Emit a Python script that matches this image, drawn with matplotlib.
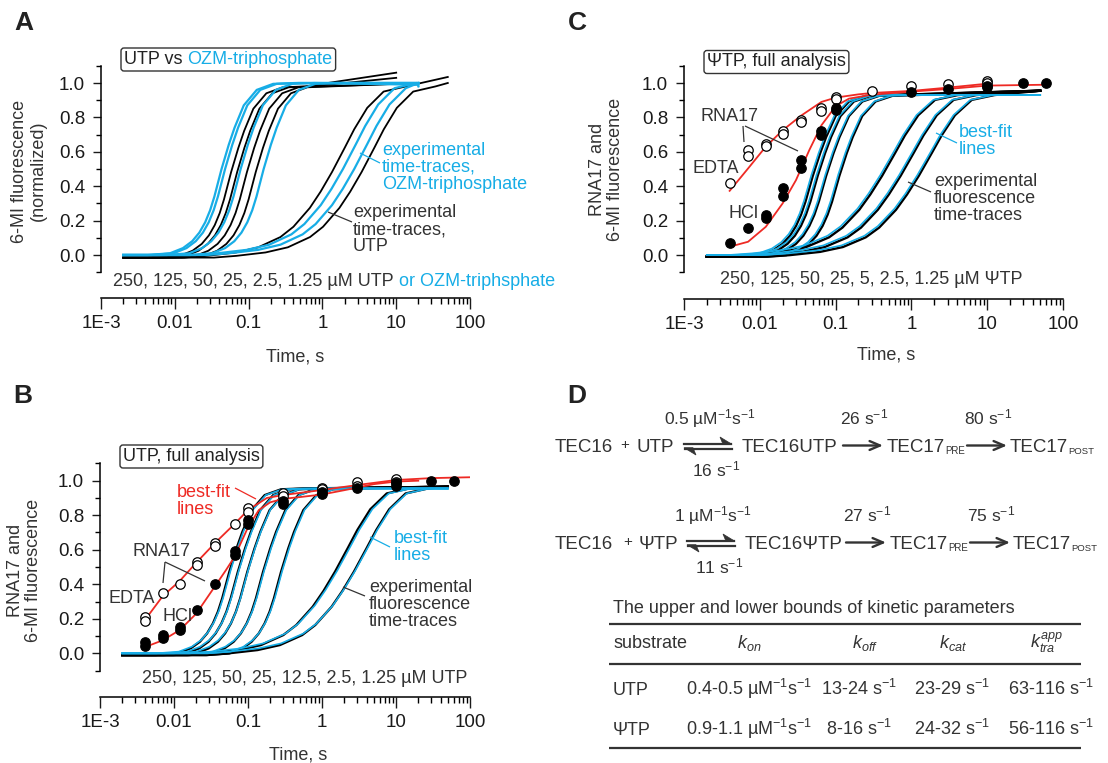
"""Kinetics figure: fluorescence time-traces (A-C) and kinetic scheme/table (D)."""

import matplotlib
matplotlib.use("Agg")
import matplotlib.pyplot as plt
import numpy as np
from matplotlib.patches import FancyBboxPatch, Polygon
from matplotlib.ticker import (FixedFormatter, FixedLocator, LogLocator,
                               MultipleLocator, NullFormatter)

plt.rcParams["font.family"] = ["Liberation Sans", "DejaVu Sans"]
plt.rcParams["mathtext.fontset"] = "custom"
plt.rcParams["mathtext.rm"] = "Liberation Sans"
plt.rcParams["mathtext.it"] = "Liberation Sans:italic"
plt.rcParams["mathtext.bf"] = "Liberation Sans:bold"

W, H = 1108, 763
BLUE = "#17ADE6"
RED = "#EE2A24"
INK = "#333333"
TICK = "#1a1a1a"
FS = 13

X_TICKS = [1e-3, 1e-2, 1e-1, 1, 10, 100]
X_TICK_LABELS = ["1E-3", "0.01", "0.1", "1", "10", "100"]

# shape of a trace, time / half-time -> fraction of plateau
FAST_RATIO = [0.1, 0.2, 0.3, 0.4, 0.5, 0.6, 0.7, 0.8, 1.0, 1.25, 1.5, 2.0, 3.0, 5.0, 10.0]
FAST_Y = [0.0, 0.01, 0.04, 0.08, 0.13, 0.19, 0.26, 0.34, 0.50, 0.64, 0.74, 0.87, 0.96, 0.995, 1.0]
SLOW_RATIO = [0.01, 0.02, 0.05, 0.1, 0.2, 0.3, 0.5, 0.7, 1.0, 1.5, 2.0, 3.0, 5.0, 10.0]
SLOW_Y = [0.0, 0.01, 0.03, 0.06, 0.12, 0.18, 0.29, 0.385, 0.5, 0.645, 0.75, 0.875, 0.97, 1.0]
PROFILES = {"fast": (FAST_RATIO, FAST_Y), "slow": (SLOW_RATIO, SLOW_Y)}

TRACE_START = 0.002

# ── Panel A: UTP vs OZM-triphosphate ──
A_SHAPE = ["fast", "fast", "fast", "fast", "slow", "slow"]
A_UTP_T50 = [0.058, 0.07, 0.095, 0.125, 1.35, 3.4]
A_UTP_PLATEAU = 0.98
A_UTP_BASE = -0.015
A_UTP_END_T = [10, 10, 20, 20, 50, 50]
A_UTP_END_Y = [1.06, 1.03, 1.0, 1.0, 1.035, 1.0]
A_OZM_T50 = [0.043, 0.048, 0.078, 0.16, 1.9, 2.7]
A_OZM_PLATEAU = 1.0
A_OZM_BASE = 0.0
A_OZM_END_T = [20, 20, 20, 20, 20, 20]
A_OZM_END_Y = [1.0, 1.0, 0.99, 1.0, 0.98, 1.0]

# ── Panel B: UTP, full analysis ──
B_SHAPE = ["fast", "fast", "fast", "fast", "fast", "slow", "slow"]
B_EXP_T50 = [0.056, 0.073, 0.098, 0.16, 0.28, 1.5, 2.7]
B_FIT_T50 = [0.058, 0.075, 0.10, 0.165, 0.29, 1.6, 2.8]
B_PLATEAU = 0.955
B_EXP_END = (50, 0.965)
B_FIT_END = (50, 0.955)

B_EDTA_T = [0.004, 0.004, 0.0072, 0.012, 0.0207, 0.0207, 0.036, 0.036, 0.066,
            0.1, 0.1, 0.3, 0.3, 1, 1, 3, 3, 10, 10]
B_EDTA_Y = [0.21, 0.19, 0.35, 0.40, 0.53, 0.51, 0.64, 0.62, 0.75,
            0.84, 0.82, 0.93, 0.91, 0.96, 0.95, 0.99, 0.97, 1.01, 0.99]
B_HCL_T = [0.004, 0.004, 0.0072, 0.0072, 0.012, 0.012, 0.0207, 0.036, 0.066, 0.066,
           0.1, 0.1, 0.3, 0.3, 1, 1, 3, 10, 10, 30, 60]
B_HCL_Y = [0.068, 0.045, 0.106, 0.087, 0.15, 0.135, 0.25, 0.40, 0.59, 0.57,
           0.77, 0.75, 0.88, 0.865, 0.935, 0.925, 0.955, 0.985, 0.97, 1.0, 1.0]

B_EDTA_FIT_T = [0.004, 0.007, 0.012, 0.02, 0.036, 0.066, 0.1, 0.18, 0.3, 1, 3, 10, 30, 100]
B_EDTA_FIT_Y = [0.19, 0.33, 0.42, 0.525, 0.64, 0.75, 0.83, 0.9, 0.917, 0.946, 0.975, 1.004, 1.015, 1.02]
B_HCL_FIT_T = [0.004, 0.007, 0.012, 0.02, 0.036, 0.05, 0.066, 0.1, 0.14, 0.2, 0.3, 0.5,
               1, 2, 3, 5, 10, 20]
B_HCL_FIT_Y = [0.035, 0.075, 0.135, 0.23, 0.39, 0.48, 0.56, 0.73, 0.83, 0.875, 0.895, 0.905,
               0.92, 0.945, 0.96, 0.98, 0.995, 1.0]

# ── Panel C: ΨTP, full analysis ──
C_SHAPE = ["fast", "fast", "fast", "fast", "slow", "slow", "slow"]
C_EXP_T50 = [0.05, 0.058, 0.075, 0.112, 0.41, 0.72, 1.25]
C_FIT_T50 = [0.048, 0.056, 0.073, 0.108, 0.39, 0.69, 1.2]
C_PLATEAU = 0.93
C_EXP_END = (50, 0.955)
C_FIT_END = (50, 0.93)

C_EDTA_T = [0.004, 0.007, 0.007, 0.012, 0.012, 0.0204, 0.0204, 0.0345, 0.0345,
            0.065, 0.065, 0.1, 0.1, 0.3, 1, 3, 10, 10]
C_EDTA_Y = [0.42, 0.61, 0.575, 0.645, 0.635, 0.72, 0.705, 0.787, 0.774,
            0.857, 0.838, 0.92, 0.905, 0.954, 0.98, 0.996, 1.01, 1.0]
C_HCL_T = [0.004, 0.007, 0.012, 0.012, 0.0204, 0.0204, 0.0345, 0.0345, 0.065, 0.065,
           0.1, 0.1, 1, 3, 10, 10, 30, 60]
C_HCL_Y = [0.068, 0.155, 0.232, 0.213, 0.39, 0.342, 0.555, 0.507, 0.72, 0.70,
           0.855, 0.845, 0.95, 0.965, 0.985, 0.975, 1.0, 1.0]

C_EDTA_FIT_T = [0.004, 0.007, 0.012, 0.02, 0.035, 0.065, 0.1, 0.2, 0.3, 1, 3, 10]
C_EDTA_FIT_Y = [0.373, 0.503, 0.63, 0.725, 0.81, 0.89, 0.915, 0.934, 0.942, 0.954, 0.973, 0.996]
C_HCL_FIT_T = [0.004, 0.007, 0.012, 0.02, 0.03, 0.045, 0.065, 0.1, 0.15, 0.3, 1, 3, 10, 60]
C_HCL_FIT_Y = [0.048, 0.077, 0.164, 0.30, 0.435, 0.61, 0.754, 0.865, 0.909, 0.932, 0.95, 0.965,
               0.985, 0.99]

# ── Panel D: table ──
TABLE_HEAD = ["substrate", r"$k_{on}$", r"$k_{off}$", r"$k_{cat}$", r"$k_{tra}^{app}$"]
TABLE_ROWS = [
    ["UTP", r"0.4-0.5 µM$^{-1}$s$^{-1}$", r"13-24 s$^{-1}$", r"23-29 s$^{-1}$", r"63-116 s$^{-1}$"],
    ["ΨTP", r"0.9-1.1 µM$^{-1}$s$^{-1}$", r"8-16 s$^{-1}$", r"24-32 s$^{-1}$", r"56-116 s$^{-1}$"],
]


# ── Helpers ──

def trace(t50, shape, plateau, base, t_end, y_end):
    ratio, prof = PROFILES[shape]
    t = t50 * np.asarray(ratio)
    y = base + (plateau - base) * np.asarray(prof)
    keep = (t > TRACE_START) & (t < t_end)
    t = np.concatenate([[TRACE_START], t[keep], [t_end]])
    y = np.concatenate([[base], y[keep], [y_end]])
    return t, y


def make_axes(fig, left, right, y_one, y_zero, xaxis_y):
    unit = y_zero - y_one
    top = y_one - 0.1 * unit
    bot = y_zero + 0.1 * unit
    ax = fig.add_axes([left / W, 1 - bot / H, (right - left) / W, (bot - top) / H])
    ax.set_xscale("log")
    ax.set_xlim(1e-3, 100)
    ax.set_ylim(-0.1, 1.1)
    ax.patch.set_alpha(0)
    for side in ("top", "right"):
        ax.spines[side].set_visible(False)
    for side in ("left", "bottom"):
        ax.spines[side].set_linewidth(1.1)
    ax.spines["bottom"].set_position(("outward", (xaxis_y - bot) * 0.72))
    ax.xaxis.set_major_locator(FixedLocator(X_TICKS))
    ax.xaxis.set_major_formatter(FixedFormatter(X_TICK_LABELS))
    ax.xaxis.set_minor_locator(LogLocator(base=10, subs=np.arange(2, 10)))
    ax.xaxis.set_minor_formatter(NullFormatter())
    ax.yaxis.set_major_locator(FixedLocator([0, 0.2, 0.4, 0.6, 0.8, 1.0]))
    ax.yaxis.set_minor_locator(MultipleLocator(0.1))
    ax.yaxis.set_major_formatter(plt.FuncFormatter(lambda v, p: f"{v:.1f}"))
    ax.tick_params(axis="both", which="major", width=1.0, color=TICK,
                   labelsize=13.5, labelcolor=TICK)
    ax.tick_params(axis="x", which="major", length=8, pad=4.5)
    ax.tick_params(axis="x", which="minor", length=4, width=1.0)
    ax.tick_params(axis="y", which="major", length=6, pad=5.5)
    ax.tick_params(axis="y", which="minor", length=3.5, width=1.0)
    return ax


class Overlay:
    """Figure-wide axes in pixel units for labels, pointers and panel D."""

    def __init__(self, fig):
        ax = fig.add_axes([0, 0, 1, 1], zorder=10)
        ax.set_xlim(0, W)
        ax.set_ylim(H, 0)
        ax.axis("off")
        self.fig = fig
        self.ax = ax

    def text(self, x, y, s, size=FS, color=INK, **kw):
        kw.setdefault("va", "baseline")
        kw.setdefault("ha", "left")
        return self.ax.text(x, y, s, fontsize=size, color=color, **kw)

    def stack(self, x, y, step, lines, color=INK):
        for i, s in enumerate(lines):
            self.text(x, y + i * step, s, color=color)

    def after(self, art, s, color, size=FS):
        return self.ax.annotate(s, xy=(1, 0), xycoords=art, va="bottom", ha="left",
                                fontsize=size, color=color)

    def sub(self, x, y, main, small, size=13.5, small_size=7):
        art = self.text(x, y, main, size=size)
        self.after(art, small, INK, size=small_size)

    def line(self, p0, p1, color=INK, lw=0.9):
        self.ax.plot([p0[0], p1[0]], [p0[1], p1[1]], color=color, lw=lw,
                     solid_capstyle="butt")

    def box(self, x, y, parts, pad=3.0):
        arts = [self.text(x, y, parts[0][0], color=parts[0][1])]
        for s, c in parts[1:]:
            arts.append(self.after(arts[-1], s, c))
        renderer = self.fig.canvas.get_renderer()
        inv = self.ax.transData.inverted()
        xs, ys = [], []
        for a in arts:
            bb = a.get_window_extent(renderer)
            (x0, y0), (x1, y1) = inv.transform([[bb.x0, bb.y0], [bb.x1, bb.y1]])
            xs += [x0, x1]
            ys += [y0, y1]
        self.ax.add_patch(FancyBboxPatch(
            (min(xs), min(ys)), max(xs) - min(xs), max(ys) - min(ys),
            boxstyle=f"round,pad={pad},rounding_size=3", fc="white", ec=INK, lw=1.0,
            zorder=0.5))

    def arrow(self, x0, x1, y):
        self.ax.annotate("", xy=(x1, y), xytext=(x0, y),
                         arrowprops=dict(arrowstyle="->,head_length=0.75,head_width=0.32",
                                         color=INK, lw=1.7, shrinkA=0, shrinkB=0))

    def harpoons(self, x0, x1, y_up, y_dn):
        ax = self.ax
        ax.plot([x0, x1 - 1], [y_up, y_up], color=INK, lw=1.6)
        ax.add_patch(Polygon([(x1, y_up + 0.8), (x1 - 12, y_up - 6.5), (x1 - 9, y_up + 0.8)],
                             closed=True, fc=INK, ec=INK, lw=0.5))
        ax.plot([x0 + 1, x1], [y_dn, y_dn], color=INK, lw=1.6)
        ax.add_patch(Polygon([(x0, y_dn - 0.8), (x0 + 12, y_dn + 6.5), (x0 + 9, y_dn - 0.8)],
                             closed=True, fc=INK, ec=INK, lw=0.5))


# ── Panels ──

def panel_a(fig, ov):
    ax = make_axes(fig, 101, 470, 83, 255, 298)
    for t50, shp, te, ye in zip(A_UTP_T50, A_SHAPE, A_UTP_END_T, A_UTP_END_Y):
        ax.plot(*trace(t50, shp, A_UTP_PLATEAU, A_UTP_BASE, te, ye), color="black", lw=1.3, zorder=2)
    for t50, shp, te, ye in zip(A_OZM_T50, A_SHAPE, A_OZM_END_T, A_OZM_END_Y):
        ax.plot(*trace(t50, shp, A_OZM_PLATEAU, A_OZM_BASE, te, ye), color=BLUE, lw=1.6, zorder=3)

    ov.text(14, 30, "A", size=19, color="#222222", weight="bold")
    ov.box(124, 64, [("UTP vs ", "#222222"), ("OZM-triphosphate", BLUE)])
    ov.stack(382, 155, 16.8, ["experimental", "time-traces,", "OZM-triphosphate"], color=BLUE)
    ov.line((380, 163), (360, 153), color=BLUE)
    ov.stack(353, 217.3, 16.8, ["experimental", "time-traces,", "UTP"])
    ov.line((352, 222), (328, 212))
    t = ov.text(113, 286, "250, 125, 50, 25, 2.5, 1.25 µM UTP")
    ov.after(t, " or OZM-triphsphate", BLUE)
    ov.text(295, 362, "Time, s", ha="center")
    ov.text(20, 171, "6-MI fluorescence", rotation=90, ha="center", va="center")
    ov.text(38, 171, "(normalized)", rotation=90, ha="center", va="center")


def full_panel(ax, shapes, exp_t50, fit_t50, plateau, exp_end, fit_end,
               edta_t, edta_y, hcl_t, hcl_y, edta_fit, hcl_fit):
    for t50, shp in zip(exp_t50, shapes):
        ax.plot(*trace(t50, shp, plateau, -0.01, *exp_end), color="black", lw=1.7, zorder=2)
    for t50, shp in zip(fit_t50, shapes):
        ax.plot(*trace(t50, shp, plateau, 0.0, *fit_end), color=BLUE, lw=1.2, zorder=3)
    ax.plot(*edta_fit, color=RED, lw=1.3, zorder=4)
    ax.plot(*hcl_fit, color=RED, lw=1.3, zorder=4)
    ax.plot(edta_t, edta_y, "o", ms=6.8, mfc="white", mec="black", mew=0.9, zorder=5)
    ax.plot(hcl_t, hcl_y, "o", ms=6.8, mfc="black", mec="black", mew=0.9, zorder=5)


def panel_b(fig, ov):
    ax = make_axes(fig, 100, 470, 480.7, 653.3, 697)
    full_panel(ax, B_SHAPE, B_EXP_T50, B_FIT_T50, B_PLATEAU, B_EXP_END, B_FIT_END,
               B_EDTA_T, B_EDTA_Y, B_HCL_T, B_HCL_Y,
               (B_EDTA_FIT_T, B_EDTA_FIT_Y), (B_HCL_FIT_T, B_HCL_FIT_Y))

    ov.text(13, 403, "B", size=19, color="#222222", weight="bold")
    ov.box(123, 461, [("UTP, full analysis", "#222222")])
    ov.stack(177, 496.7, 16.8, ["best-fit", "lines"], color=RED)
    ov.line((235, 488), (256, 499), color=RED)
    ov.text(132, 556, "RNA17")
    ov.line((165, 562), (163, 583))
    ov.line((165, 562), (205, 581))
    ov.text(109, 603, "EDTA")
    ov.text(162, 621, "HCl")
    ov.stack(394, 543, 16.8, ["best-fit", "lines"], color=BLUE)
    ov.line((390, 547), (370, 537), color=BLUE)
    ov.stack(369, 592, 17, ["experimental", "fluorescence", "time-traces"])
    ov.line((365, 596), (343, 587))
    ov.text(142, 683, "250, 125, 50, 25, 12.5, 2.5, 1.25 µM UTP")
    ov.text(298, 760, "Time, s", ha="center")
    ov.text(16, 570, "RNA17 and", rotation=90, ha="center", va="center")
    ov.text(34, 570, "6-MI fluorescence", rotation=90, ha="center", va="center")


def panel_c(fig, ov):
    ax = make_axes(fig, 684, 1063, 83, 255, 299)
    full_panel(ax, C_SHAPE, C_EXP_T50, C_FIT_T50, C_PLATEAU, C_EXP_END, C_FIT_END,
               C_EDTA_T, C_EDTA_Y, C_HCL_T, C_HCL_Y,
               (C_EDTA_FIT_T, C_EDTA_FIT_Y), (C_HCL_FIT_T, C_HCL_FIT_Y))

    ov.text(568, 30, "C", size=19, color="#222222", weight="bold")
    ov.box(707, 66.5, [("ΨTP, full analysis", "#222222")])
    ov.text(700, 121, "RNA17")
    ov.line((743, 126), (744, 142))
    ov.line((745, 126), (798, 151))
    ov.text(693, 173, "EDTA")
    ov.text(728, 218, "HCl")
    ov.stack(959, 137, 16.8, ["best-fit", "lines"], color=BLUE)
    ov.line((957, 143), (936, 133), color=BLUE)
    ov.stack(934, 186, 16.8, ["experimental", "fluorescence", "time-traces"])
    ov.line((931, 192), (908, 182))
    ov.text(720, 284, "250, 125, 50, 25, 5, 2.5, 1.25 µM ΨTP")
    ov.text(886, 359, "Time, s", ha="center")
    ov.text(598, 169, "RNA17 and", rotation=90, ha="center", va="center")
    ov.text(616, 169, "6-MI fluorescence", rotation=90, ha="center", va="center")


def scheme_row(ov, y, sub, complex_name, k_on, k_off, k_cat, k_tra, dx=0):
    fs_sp, fs_k = 13.5, 12.5
    ov.text(555, y, "TEC16", size=fs_sp)
    ov.text(620 + dx, y - 3, "+", size=11)
    ov.text(636 + dx, y, sub, size=fs_sp)
    ov.harpoons(684 + dx, 732 + dx, y - 8.5, y - 3.5)
    ov.text(710 + dx, y - 28, k_on, size=fs_k, ha="center")
    ov.text(716 + dx, y + 24, k_off, size=fs_k, ha="center")
    ov.text(742 + dx, y, complex_name, size=fs_sp)
    ov.arrow(843 + dx, 883 + dx, y - 6.5)
    ov.text(864 + dx, y - 28, k_cat, size=fs_k, ha="center")
    ov.sub(887 + dx, y, "TEC17", "PRE", size=fs_sp, small_size=7)
    ov.arrow(967 + dx, 1007 + dx, y - 6.5)
    ov.text(988 + dx, y - 28, k_tra, size=fs_k, ha="center")
    ov.sub(1010 + dx, y, "TEC17", "POST", size=fs_sp, small_size=6.8)


def panel_d(ov):
    ov.text(567, 403, "D", size=19, color="#222222", weight="bold")
    scheme_row(ov, 452, "UTP", "TEC16UTP", r"0.5 µM$^{-1}$s$^{-1}$", r"16 s$^{-1}$",
               r"26 s$^{-1}$", r"80 s$^{-1}$")
    scheme_row(ov, 549, "ΨTP", "TEC16ΨTP", r"1 µM$^{-1}$s$^{-1}$", r"11 s$^{-1}$",
               r"27 s$^{-1}$", r"75 s$^{-1}$", dx=3)

    ov.text(613, 613, "The upper and lower bounds of kinetic parameters")
    for yl in (624.3, 664.3, 748.3):
        ov.line((609, yl), (1081, yl), lw=1.6)
    head_x = [613, 737, 852, 939, 1030]
    for x, s in zip(head_x, TABLE_HEAD):
        ov.text(x, 648, s)
    col_x = [613, 686, 821, 914, 1008]
    for yb, row in zip((695, 735), TABLE_ROWS):
        for i, (x, s) in enumerate(zip(col_x, row)):
            if i == 2 and row[0] == "ΨTP":
                x += 5
            ov.text(x, yb, s)


def main():
    fig = plt.figure(figsize=(W / 100, H / 100), dpi=100)
    ov = Overlay(fig)
    panel_a(fig, ov)
    panel_b(fig, ov)
    panel_c(fig, ov)
    panel_d(ov)
    fig.savefig("out.png", dpi=100)


if __name__ == "__main__":
    main()
